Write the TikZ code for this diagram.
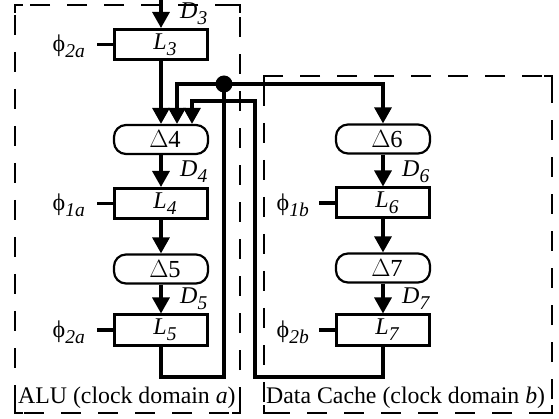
\documentclass[tikz,border=0pt]{standalone}
\usepackage{fontspec}
\setmainfont{Liberation Serif}
\usetikzlibrary{arrows.meta}
% lowered italic index, used for D_i, L_i and the clock phases
\newcommand\lowidx[1]{\raisebox{-0.26em}{\fontsize{19.5}{20}\selectfont\itshape #1}}
\begin{document}
\begin{tikzpicture}[x=1pt,y=-1pt,
  wire/.style={line width=3.2pt},
  flow/.style={wire,-{Triangle[length=16pt,width=17pt]}},
  latchbox/.style={draw,line width=3pt,minimum width=93pt,minimum height=30pt,
    inner sep=0pt,font=\fontsize{24}{26}\selectfont\itshape},
  delaybox/.style={draw,line width=2.2pt,rounded corners=12pt,minimum width=94pt,
    minimum height=29pt,inner sep=0pt,font=\fontsize{24.5}{26}\selectfont},
  domainbox/.style={draw,line width=2pt,dash pattern=on 20pt off 17pt,dash phase=-10pt},
  corner/.style={line width=2pt},
  sig/.style={anchor=west,inner sep=0pt,font=\fontsize{24}{26}\selectfont\itshape},
  clk/.style={anchor=east,inner sep=0pt,font=\fontsize{24}{26}\selectfont},
  dom/.style={anchor=base west,inner sep=0pt,font=\fontsize{23.8}{26}\selectfont},
  dot/.style={circle,fill,inner sep=0pt,minimum size=17pt}]
\useasboundingbox (0,0) rectangle (559,419);

% clock domains: dashed frames with solid corners
\draw[domainbox] (15,5) rectangle (240,413);
\draw[domainbox] (264,76) rectangle (552,413);
\foreach \xa/\ya/\xb/\yb in {15/5/240/413, 264/76/552/413}{
  \draw[corner] (\xa,\ya+8) -- (\xa,\ya) -- (\xa+8,\ya);
  \draw[corner] (\xb-8,\ya) -- (\xb,\ya) -- (\xb,\ya+8);
  \draw[corner] (\xa,\yb-8) -- (\xa,\yb) -- (\xa+8,\yb);
  \draw[corner] (\xb-8,\yb) -- (\xb,\yb) -- (\xb,\yb-8);
}
\node[dom] (alu) at (18,403) {ALU (clock domain \textit{a})};
\node[dom] (dc) at (266,403) {Data Cache (clock domain \textit{b})};

% ALU pipeline
\node[latchbox] (L3) at (161,44.5) {\hspace{8pt}L\lowidx{3}};
\node[delaybox] (d4) at (161,139.5) {\hspace{8pt}$\Delta$4};
\node[latchbox] (L4) at (161,203.5) {\hspace{8pt}L\lowidx{4}};
\node[delaybox] (d5) at (161,269) {\hspace{8pt}$\Delta$5};
\node[latchbox] (L5) at (161,330) {\hspace{8pt}L\lowidx{5}};

% data cache pipeline
\node[delaybox] (d6) at (383,139) {\hspace{8pt}$\Delta$6};
\node[latchbox] (L6) at (383,203) {\hspace{8pt}L\lowidx{6}};
\node[delaybox] (d7) at (383,268) {\hspace{8pt}$\Delta$7};
\node[latchbox] (L7) at (383,330) {\hspace{8pt}L\lowidx{7}};

% data labels
\node[sig] (D3) at (180,14) {D\lowidx{3}};
\node[sig] (D4) at (180,172) {D\lowidx{4}};
\node[sig] (D5) at (180,299) {D\lowidx{5}};
\node[sig] (D6) at (402,172) {D\lowidx{6}};
\node[sig] (D7) at (402,299) {D\lowidx{7}};

% clock phases
\node[clk] (p3) at (85,46) {ϕ\lowidx{2a}};
\node[clk] (p4) at (85,205) {ϕ\lowidx{1a}};
\node[clk] (p5) at (85,332) {ϕ\lowidx{2a}};
\node[clk] (p6) at (309,205) {ϕ\lowidx{1b}};
\node[clk] (p7) at (309,332) {ϕ\lowidx{2b}};
\draw[wire] ([xshift=12pt]p3.east |- L3.west) -- (L3.west);
\draw[wire] ([xshift=12pt]p4.east |- L4.west) -- (L4.west);
\draw[wire] ([xshift=12pt]p5.east |- L5.west) -- (L5.west);
\draw[wire] ([xshift=10pt]p6.east |- L6.west) -- (L6.west);
\draw[wire] ([xshift=10pt]p7.east |- L7.west) -- (L7.west);

% forward flow
\coordinate (in) at (161,-3);
\draw[flow] (in) -- (L3.north);
\draw[flow] (L3.south) -- (d4.north);
\draw[flow] (d4.south) -- (L4.north);
\draw[flow] (L4.south) -- (d5.north);
\draw[flow] (d5.south) -- (L5.north);
\draw[flow] (d6.south) -- (L6.north);
\draw[flow] (L6.south) -- (d7.north);
\draw[flow] (d7.south) -- (L7.north);

% ALU result loop with fan-out junction
\node[dot] (junc) at (224,84) {};
\draw[wire] (L5.south) |- (224,377) -- (junc.center);
\draw[flow] (junc.center) -| ([xshift=16pt]d4.north);
\draw[flow] (junc.center) -| (d6.north);

% data cache return path
\coordinate (rloop) at (255,377);
\coordinate (ret) at (255,101);
\draw[flow] (L7.south) |- (rloop) -- (ret) -| ([xshift=31pt]d4.north);
\end{tikzpicture}
\end{document}
